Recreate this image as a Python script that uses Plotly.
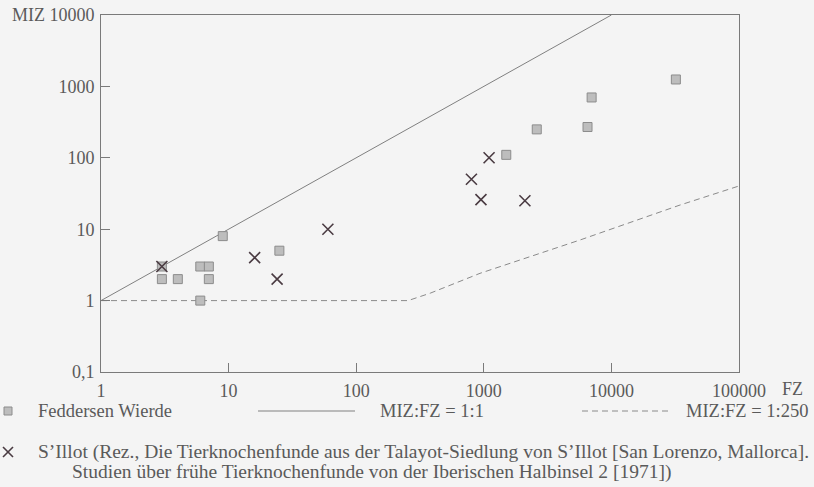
import plotly.graph_objects as go

# ---- data ----
fw_fz = [3, 4, 3, 6, 7, 7, 6, 9, 25, 1500, 2600, 6500, 7000, 32000]
fw_miz = [2, 2, 3, 3, 3, 2, 1, 8, 5, 110, 250, 270, 700, 1250]

si_fz = [3, 16, 24, 60, 800, 950, 1100, 2100]
si_miz = [3, 4, 2, 10, 50, 26, 100, 25]

r1_fz = [1, 10000]
r1_miz = [1, 10000]

r250_fz = [1, 255, 380, 934, 5675, 34500, 100000]
r250_miz = [1, 1, 1.27, 2.41, 7.06, 21.8, 40.3]

x_tickvals = [1, 10, 100, 1000, 10000, 100000]
x_ticktext = ["1", "10", "100", "1000", "10000", "100000"]
y_tickvals = [0.1, 1, 10, 100, 1000, 10000]
y_ticktext = ["0,1", "1", "10", "100", "1000", "MIZ 10000"]

legend_fw = "Feddersen Wierde"
legend_r1 = "MIZ:FZ = 1:1"
legend_r250 = "MIZ:FZ = 1:250"
legend_si_1 = "S\u2019Illot (Rez., Die Tierknochenfunde aus der Talayot-Siedlung von S\u2019Illot [San Lorenzo, Mallorca]."
legend_si_2 = "Studien über frühe Tierknochenfunde von der Iberischen Halbinsel 2 [1971])"

# ---- layout geometry (pixels) ----
W, H = 814, 487
L, R, T, B = 101, 75, 15, 115
PW, PH = W - L - R, H - T - B


def px(p):
    return (p - L) / PW


def py(p):
    return (T + PH - p) / PH


FONT = "Liberation Serif"
TXT = "#5a5a5a"
AX = "#7a7a7a"
BG = "#f4f4f4"
SQ_FILL = "#bdbdbd"
SQ_LINE = "#8c8c8c"
XCOL = "#4a3b42"

fig = go.Figure()

fig.add_trace(go.Scatter(x=r1_fz, y=r1_miz, mode="lines",
                         line=dict(color="#808080", width=1)))
fig.add_trace(go.Scatter(x=r250_fz, y=r250_miz, mode="lines",
                         line=dict(color="#8a8a8a", width=1, dash="6px,4px")))
fig.add_trace(go.Scatter(x=fw_fz, y=fw_miz, mode="markers",
                         marker=dict(symbol="square", size=9, color=SQ_FILL,
                                     line=dict(color=SQ_LINE, width=1))))
fig.add_trace(go.Scatter(x=si_fz, y=si_miz, mode="markers",
                         marker=dict(symbol="x-thin", size=11,
                                     line=dict(color=XCOL, width=1.6))))

axis_common = dict(
    type="log", showgrid=False, zeroline=False, showline=True,
    linecolor=AX, linewidth=1, mirror=True, ticks="inside", ticklen=9,
    tickcolor=AX, tickwidth=1, automargin=False,
    tickfont=dict(family=FONT, size=18, color=TXT),
)

fig.update_layout(
    width=W, height=H,
    margin=dict(l=L, r=R, t=T, b=B, autoexpand=False),
    paper_bgcolor=BG, plot_bgcolor=BG,
    showlegend=False,
    xaxis=dict(range=[0, 5], tickvals=x_tickvals, ticktext=x_ticktext,
               ticklabelstandoff=2, **axis_common),
    yaxis=dict(range=[-1, 4], tickvals=y_tickvals, ticktext=y_ticktext,
               ticklabelstandoff=2, **axis_common),
)

ann = []
ann.append(dict(text="FZ", x=px(792), y=py(389), xref="paper", yref="paper",
                xanchor="center", yanchor="middle", showarrow=False,
                font=dict(family=FONT, size=18, color=TXT)))

row1, row2, row3 = 411, 452, 472
ann.append(dict(text=legend_fw, x=px(36), y=py(row1), xref="paper", yref="paper",
                xanchor="left", yanchor="middle", showarrow=False,
                font=dict(family=FONT, size=18.5, color=TXT)))
ann.append(dict(text=legend_r1, x=px(378), y=py(row1), xref="paper", yref="paper",
                xanchor="left", yanchor="middle", showarrow=False,
                font=dict(family=FONT, size=18.5, color=TXT)))
ann.append(dict(text=legend_r250, x=px(810), y=py(row1), xref="paper", yref="paper",
                xanchor="right", yanchor="middle", showarrow=False,
                font=dict(family=FONT, size=18.5, color=TXT)))
ann.append(dict(text=legend_si_1, x=px(36), y=py(row2), xref="paper", yref="paper",
                xanchor="left", yanchor="middle", showarrow=False,
                font=dict(family=FONT, size=19.5, color=TXT)))
ann.append(dict(text=legend_si_2, x=px(70), y=py(row3), xref="paper", yref="paper",
                xanchor="left", yanchor="middle", showarrow=False,
                font=dict(family=FONT, size=19.5, color=TXT)))

shapes = []
# legend square
shapes.append(dict(type="rect", xref="paper", yref="paper",
                   x0=px(4), x1=px(12), y0=py(row1 + 4), y1=py(row1 - 4),
                   fillcolor=SQ_FILL, line=dict(color=SQ_LINE, width=1)))
# legend x
shapes.append(dict(type="line", xref="paper", yref="paper",
                   x0=px(3), x1=px(13), y0=py(row2 - 5), y1=py(row2 + 5),
                   line=dict(color=XCOL, width=1.6)))
shapes.append(dict(type="line", xref="paper", yref="paper",
                   x0=px(3), x1=px(13), y0=py(row2 + 5), y1=py(row2 - 5),
                   line=dict(color=XCOL, width=1.6)))
# legend solid line
shapes.append(dict(type="line", xref="paper", yref="paper",
                   x0=px(258), x1=px(355), y0=py(row1), y1=py(row1),
                   line=dict(color="#808080", width=1)))
# legend dashed line
shapes.append(dict(type="line", xref="paper", yref="paper",
                   x0=px(582), x1=px(668), y0=py(row1), y1=py(row1),
                   line=dict(color="#8a8a8a", width=1, dash="6px,4px")))

fig.update_layout(annotations=ann, shapes=shapes)

fig.write_html("out.html",
               config={"displayModeBar": False},
               post_script="document.body.style.margin='0px';"
                           "document.body.style.background='#f4f4f4';")
